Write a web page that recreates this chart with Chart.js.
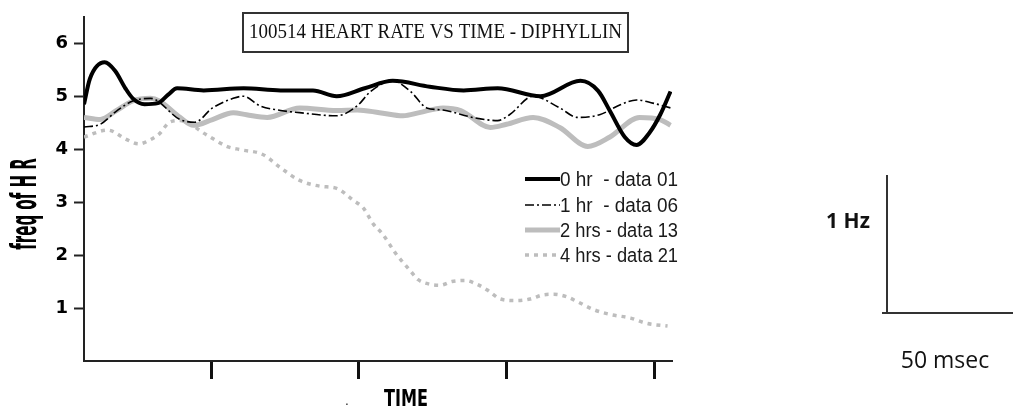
<!DOCTYPE html>
<html>
<head>
<meta charset="utf-8">
<title>100514 Heart rate vs time - Diphyllin</title>
<script src="https://cdn.jsdelivr.net/npm/chart.js@4.4.1/dist/chart.umd.min.js"></script>
<style>
  body { margin: 0; background: #fff; }
  #wrap { width: 1013px; height: 417px; }
</style>
</head>
<body>
<div id="wrap"><canvas id="hrChart" width="1013" height="417"></canvas></div>
<script>
// Data Area (time in tick units, freq in Hz)
const chartTitle = '100514 HEART RATE VS TIME - DIPHYLLIN';
const yTitle = 'freq of H R';
const xTitle = 'TIME';
const seriesNames = ['0 hr  - data 01', '1 hr  - data 06', '2 hrs - data 13', '4 hrs - data 21'];
const xTicks = [1, 2, 3, 4];
const yTicks = [1, 2, 3, 4, 5, 6];

const time0 = [0.14, 0.18, 0.28, 0.35, 0.42, 0.47, 0.55, 0.64, 0.71, 0.77, 0.95, 1.22, 1.47, 1.69, 1.85, 2.04, 2.23, 2.48, 2.71, 2.94, 3.23, 3.50, 3.62, 3.70, 3.80, 3.88, 3.97, 4.04, 4.11];
const freq0 = [4.85, 5.33, 5.64, 5.48, 5.15, 4.96, 4.85, 4.87, 5.03, 5.15, 5.11, 5.15, 5.11, 5.11, 5.00, 5.15, 5.29, 5.18, 5.11, 5.15, 5.00, 5.29, 5.10, 4.72, 4.23, 4.08, 4.32, 4.65, 5.09];

const time1 = [0.14, 0.25, 0.36, 0.47, 0.59, 0.79, 0.89, 1.01, 1.15, 1.22, 1.33, 1.45, 1.60, 1.85, 1.99, 2.08, 2.23, 2.35, 2.46, 2.57, 2.77, 2.94, 3.02, 3.18, 3.36, 3.48, 3.63, 3.77, 3.88, 3.99, 4.11];
const freq1 = [4.42, 4.47, 4.72, 4.91, 4.96, 4.56, 4.51, 4.78, 4.96, 5.00, 4.82, 4.74, 4.69, 4.63, 4.82, 5.09, 5.29, 5.09, 4.78, 4.74, 4.60, 4.54, 4.65, 5.00, 4.78, 4.60, 4.65, 4.84, 4.93, 4.87, 4.78];

const time2 = [0.14, 0.25, 0.36, 0.47, 0.59, 0.65, 0.79, 0.88, 1.01, 1.15, 1.24, 1.38, 1.60, 1.85, 1.99, 2.14, 2.30, 2.41, 2.57, 2.69, 2.89, 3.00, 3.18, 3.36, 3.55, 3.70, 3.90, 4.04, 4.11];
const freq2 = [4.60, 4.56, 4.73, 4.91, 4.96, 4.91, 4.60, 4.45, 4.56, 4.69, 4.65, 4.60, 4.78, 4.73, 4.74, 4.69, 4.63, 4.69, 4.78, 4.73, 4.41, 4.47, 4.60, 4.41, 4.05, 4.23, 4.60, 4.56, 4.45];

const time3 = [0.14, 0.30, 0.43, 0.51, 0.59, 0.65, 0.72, 0.79, 0.97, 1.11, 1.20, 1.35, 1.47, 1.60, 1.74, 1.85, 1.96, 2.03, 2.10, 2.16, 2.25, 2.35, 2.40, 2.48, 2.55, 2.63, 2.72, 2.80, 2.87, 2.96, 3.07, 3.16, 3.25, 3.32, 3.41, 3.48, 3.59, 3.70, 3.84, 3.95, 4.09];
const freq3 = [4.23, 4.36, 4.18, 4.10, 4.18, 4.29, 4.51, 4.54, 4.27, 4.05, 3.99, 3.90, 3.65, 3.41, 3.30, 3.26, 3.04, 2.89, 2.58, 2.40, 2.03, 1.70, 1.54, 1.45, 1.43, 1.50, 1.52, 1.45, 1.34, 1.17, 1.14, 1.17, 1.25, 1.26, 1.21, 1.12, 0.97, 0.88, 0.81, 0.71, 0.66];

const toPoints = (xs, ys) => xs.map((x, i) => ({x: x, y: ys[i]}));

// Start Decorations (title box, legend, axis titles, scale bar)
const extras = {
  id: 'extras',
  afterDraw(chart) {
    const ctx = chart.ctx;
    const area = chart.chartArea;
    ctx.save();

    // title box
    ctx.fillStyle = '#fff';
    ctx.fillRect(243, 13, 385, 39);
    ctx.strokeStyle = '#333';
    ctx.lineWidth = 2;
    ctx.strokeRect(243, 13, 385, 39);
    ctx.fillStyle = '#111';
    ctx.font = '20px "Liberation Serif"';
    ctx.textAlign = 'center';
    ctx.textBaseline = 'middle';
    ctx.fillText(chartTitle, 435.5, 33, 373);

    // legend
    const rows = [179, 205, 230, 255];
    chart.data.datasets.forEach((ds, i) => {
      ctx.beginPath();
      ctx.setLineDash(ds.borderDash || []);
      ctx.lineWidth = ds.borderWidth;
      ctx.strokeStyle = ds.borderColor;
      ctx.moveTo(525, rows[i]);
      ctx.lineTo(560, rows[i]);
      ctx.stroke();
      ctx.setLineDash([]);
      ctx.fillStyle = '#1a1a1a';
      ctx.font = '20px "Liberation Sans"';
      ctx.textAlign = 'left';
      ctx.fillText(ds.label, 560, rows[i] + 1, 118);
    });

    // y title, stretched like the original
    ctx.save();
    ctx.translate(27, 204);
    ctx.rotate(-Math.PI / 2);
    ctx.scale(1, 2.4);
    ctx.fillStyle = '#000';
    ctx.font = 'bold 15px "DejaVu Sans"';
    ctx.textAlign = 'center';
    ctx.fillText(yTitle, 0, 0, 93);
    ctx.restore();

    // x title
    ctx.save();
    ctx.translate(406, area.bottom + 39);
    ctx.scale(1, 1.3);
    ctx.fillStyle = '#000';
    ctx.font = 'bold 17px "DejaVu Sans"';
    ctx.textAlign = 'center';
    ctx.fillText(xTitle, 0, 0, 44);
    ctx.restore();
    ctx.fillStyle = '#000';
    ctx.font = '12px "Liberation Sans"';
    ctx.textAlign = 'center';
    ctx.fillText('.', 347, area.bottom + 41);

    // scale bar
    ctx.strokeStyle = '#333';
    ctx.lineWidth = 2;
    ctx.beginPath();
    ctx.moveTo(887, 175);
    ctx.lineTo(887, 313);
    ctx.moveTo(882, 313);
    ctx.lineTo(1013, 313);
    ctx.stroke();
    ctx.fillStyle = '#111';
    ctx.font = 'bold 21px "Open Sans"';
    ctx.fillText('1 Hz', 848, 222);
    ctx.font = '23px "Open Sans"';
    ctx.fillText('50 msec', 945, 361);

    ctx.restore();
  }
};
// End Decorations

// Start Heart Rate Chart
const ctx = document.getElementById('hrChart');

new Chart(ctx, {
  type: 'line',
  data: {
    datasets: [{
      label: seriesNames[0],
      data: toPoints(time0, freq0),
      borderColor: '#000',
      borderWidth: 4
    }, {
      label: seriesNames[1],
      data: toPoints(time1, freq1),
      borderColor: '#000',
      borderWidth: 1.6,
      borderDash: [9, 3, 2, 3]
    }, {
      label: seriesNames[2],
      data: toPoints(time2, freq2),
      borderColor: '#bdbdbd',
      borderWidth: 5
    }, {
      label: seriesNames[3],
      data: toPoints(time3, freq3),
      borderColor: '#bdbdbd',
      borderWidth: 3.5,
      borderDash: [4, 5]
    }]
  },
  options: {
    responsive: false,
    animation: false,
    layout: {
      padding: {left: 0, right: 341, top: 6, bottom: 0}
    },
    elements: {
      point: {radius: 0},
      line: {cubicInterpolationMode: 'monotone', fill: false}
    },
    plugins: {
      legend: {display: false},
      tooltip: {enabled: false}
    },
    scales: {
      x: {
        type: 'linear',
        min: 0.14,
        max: 4.12,
        afterBuildTicks: (scale) => { scale.ticks = xTicks.map(v => ({value: v})); },
        afterFit: (scale) => { scale.height = 56; },
        ticks: {display: false},
        grid: {drawOnChartArea: false, tickLength: 18, tickWidth: 3, tickColor: '#111'},
        border: {color: '#222', width: 2}
      },
      y: {
        min: 0,
        max: 6.5,
        afterBuildTicks: (scale) => { scale.ticks = yTicks.map(v => ({value: v})); },
        afterFit: (scale) => { scale.width = 84; },
        ticks: {
          padding: 6,
          color: '#000',
          font: {family: 'DejaVu Sans', weight: 'bold', size: 18}
        },
        grid: {drawOnChartArea: false, tickLength: 10, tickWidth: 2, tickColor: '#222'},
        border: {color: '#222', width: 2}
      }
    }
  },
  plugins: [extras]
});
// End Heart Rate Chart
</script>
</body>
</html>
